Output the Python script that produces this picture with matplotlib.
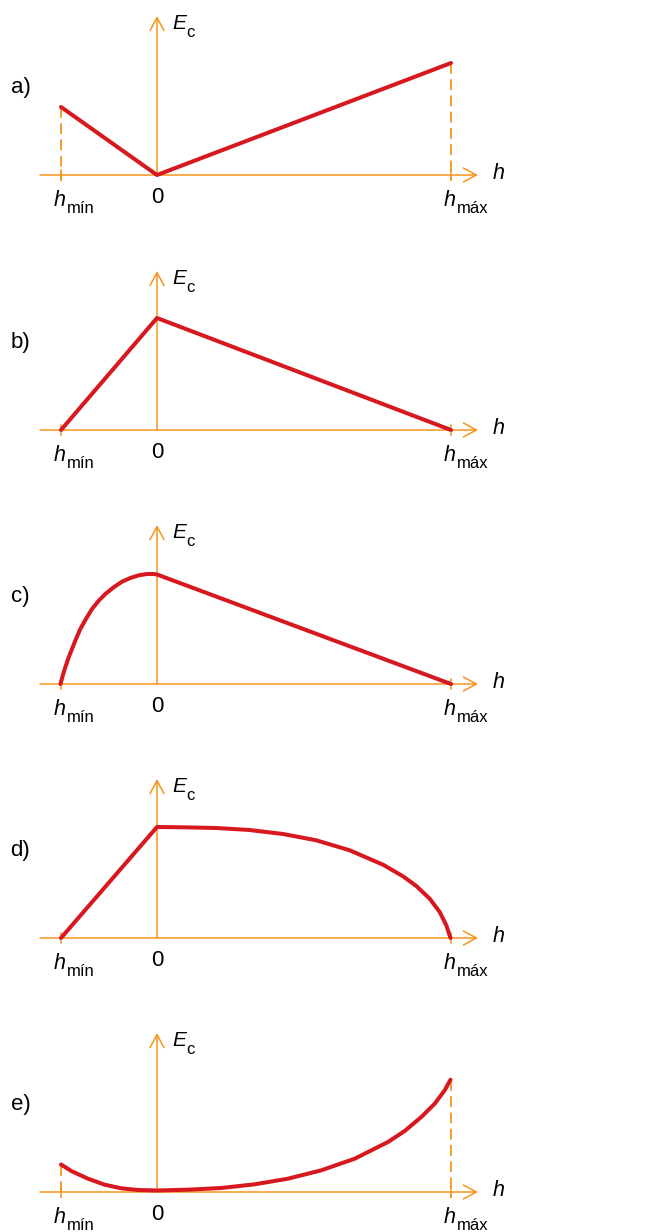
import matplotlib
matplotlib.use("Agg")
import matplotlib.pyplot as plt

# Unidades em "pixels" do desenho original: h = 0 no eixo vertical, Ec = 0 no eixo h
h_min = -96
h_max = 294

letras = ["a)", "b)", "c)", "d)", "e)"]

# a) duas retas
a_h = [-96, 0, 294]
a_ec = [68, 0, 112]

# b) sobe até 0 e desce até h_max
b_h = [-96, 0, 294]
b_ec = [0, 112, 0]

# c) curva até 0, depois reta
c_h = [-96.5, -94.3, -91.7, -88.3, -85, -81.7, -76.7, -71.7, -65, -58.3, -51.7,
       -43.3, -35, -26.7, -18.3, -10, -3.3, 0, 294]
c_ec = [0, 8.3, 16.7, 26.7, 35, 43.3, 55, 64, 75, 83.3, 90,
        96.7, 102.3, 106, 108.7, 110, 110, 109.5, 0]

# d) reta até 0, depois curva
d_h = [-96, 0, 26, 59.3, 92.7, 126, 159.3, 192.7, 226, 246, 259.3, 272.7, 282.7, 289.3, 293.5]
d_ec = [0, 111, 110.7, 110, 108, 104, 97.7, 87.7, 73.3, 61.7, 52, 39.3, 26, 12.7, 0]

# e) curva com mínimo em 0
e_h = [-96, -85.7, -69, -52.3, -35.7, -19, 0, 31, 64.3, 97.7, 131, 164.3, 197.7,
       231, 247.7, 264.3, 277.7, 287.7, 293.5]
e_ec = [27.5, 21, 13.3, 7.3, 3.7, 2, 1.5, 2.3, 4, 7.7, 13.3, 21.7, 33.3,
        50, 61, 75, 88.3, 101.7, 112.3]

series_h = [a_h, b_h, c_h, d_h, e_h]
series_ec = [a_ec, b_ec, c_ec, d_ec, e_ec]

# posição (px a partir do topo) da linha de base de cada gráfico
bases = [175, 430, 684, 938, 1192]

laranja = "#F7941D"
vermelho = "#D7191F"
fonte = "Liberation Sans"

W, H = 665, 1232
fig = plt.figure(figsize=(W / 100, H / 100), dpi=100)

for i in range(5):
    base = bases[i]
    # cada eixo com 254 px de altura, linha de base a 70 px da parte de baixo
    bottom = (H - base - 70) / H
    ax = fig.add_axes([0, bottom, 1, 254 / H])
    ax.set_xlim(-157, W - 157)
    ax.set_ylim(-70, 184)
    ax.axis("off")

    # eixos com seta aberta
    seta = dict(arrowstyle="->,head_length=0.78,head_width=0.42", color=laranja,
                lw=1.1, shrinkA=0, shrinkB=0, mutation_scale=12)
    ax.annotate("", xy=(321, 0), xytext=(-117, 0), arrowprops=seta)
    ax.annotate("", xy=(0, 159), xytext=(0, 0), arrowprops=seta)

    hs = series_h[i]
    ecs = series_ec[i]

    # pequenas marcas em h_min e h_max
    for hx in (h_min, h_max):
        ax.plot([hx, hx], [-5, 5], color=laranja, lw=1.1)

    # tracejado quando a extremidade está acima do eixo
    if ecs[0] > 5:
        ax.plot([hs[0], hs[0]], [ecs[0], -6], color=laranja, lw=1.3, ls=(0, (6, 3)))
    if ecs[-1] > 5:
        ax.plot([hs[-1], hs[-1]], [ecs[-1], -6], color=laranja, lw=1.3, ls=(0, (6, 3)))

    ax.plot(hs, ecs, color=vermelho, lw=2.9, solid_capstyle="round",
            solid_joinstyle="round", zorder=5)

    # textos
    ax.text(-146.5, 82, letras[i], fontsize=16, family=fonte, ha="left", va="baseline")
    ax.text(15.5, 146, "E", fontsize=15, family=fonte, style="italic", ha="left", va="baseline")
    ax.text(29.5, 138.3, "c", fontsize=12, family=fonte, ha="left", va="baseline")
    ax.text(336, -4, "h", fontsize=15.5, family=fonte, style="italic", ha="left", va="baseline")
    ax.text(0.5, -28, "0", fontsize=16, family=fonte, ha="center", va="baseline")
    ax.text(-103, -31, "h", fontsize=15.5, family=fonte, style="italic", ha="left", va="baseline")
    ax.text(-90.5, -38, "mín", fontsize=12, family=fonte, ha="left", va="baseline")
    ax.text(287, -31, "h", fontsize=15.5, family=fonte, style="italic", ha="left", va="baseline")
    ax.text(299.5, -38, "máx", fontsize=12, family=fonte, ha="left", va="baseline")

fig.savefig("out.png", dpi=100, facecolor="white")
